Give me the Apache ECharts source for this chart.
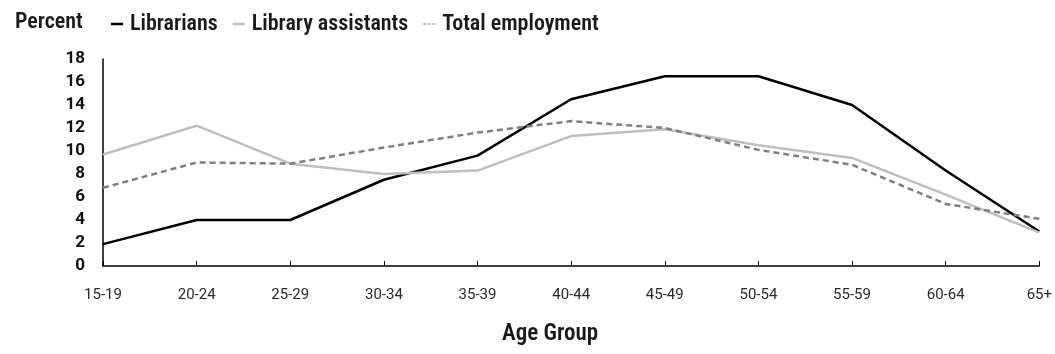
<!DOCTYPE html>
<html>
<head>
<meta charset="utf-8">
<script src="https://cdn.jsdelivr.net/npm/echarts@6/dist/echarts.min.js"></script>
<style>
  html, body { margin: 0; padding: 0; background: #fff; }
  #chart { width: 1055px; height: 354px; }
</style>
</head>
<body>
<div id="chart"></div>
<script>
// Age groups along the horizontal axis
const ageGroups = ['15-19', '20-24', '25-29', '30-34', '35-39', '40-44', '45-49', '50-54', '55-59', '60-64', '65+'];

// Share of each workforce by age group, in percent
const librarians = [1.9, 4.0, 4.0, 7.5, 9.6, 14.5, 16.5, 16.5, 14.0, 8.3, 3.0];
const libraryAssistants = [9.7, 12.2, 8.9, 8.0, 8.3, 11.3, 11.9, 10.5, 9.4, 6.2, 2.9];
const totalEmployment = [6.8, 9.0, 8.9, 10.3, 11.6, 12.6, 12.0, 10.1, 8.8, 5.4, 4.1];

const COND = '"Roboto Condensed", "Open Sans", sans-serif';
const REG = 'Roboto, "Noto Sans", sans-serif';

const chart = echarts.init(document.getElementById('chart'), null, { renderer: 'canvas' });

function lineSeries(name, data, color, type) {
  return {
    name: name,
    type: 'line',
    data: data,
    symbol: 'none',
    showSymbol: false,
    animation: false,
    lineStyle: { color: color, width: 2.5, type: type },
    itemStyle: { color: color }
  };
}

// Legend keys: short solid bars, and three dashes for the dashed series
const solidKey = 'rect';
const dashedKey = 'path://M0,0h3v1h-3zM4.5,0h3v1h-3zM9,0h3v1h-3z';

chart.setOption({
  animation: false,
  backgroundColor: '#fff',
  graphic: [{
    type: 'text',
    left: 15,
    top: 11,
    style: { text: 'Percent', font: '600 22px ' + COND, fill: '#1a1a1a' }
  }],
  legend: {
    left: 106,
    top: 8,
    itemWidth: 12,
    itemHeight: 2.5,
    itemGap: 15,
    textStyle: { fontFamily: COND, fontSize: 22, fontWeight: 600, color: '#1a1a1a', padding: [0, 0, 0, 2] },
    itemStyle: { borderWidth: 0 },
    data: [
      { name: 'Librarians', icon: solidKey },
      { name: 'Library assistants', icon: solidKey },
      { name: 'Total employment', icon: dashedKey }
    ]
  },
  grid: { left: 103, right: 12, top: 59, bottom: 88, containLabel: false },
  xAxis: {
    type: 'category',
    data: ageGroups,
    boundaryGap: false,
    axisLine: { lineStyle: { color: '#000', width: 1.5 } },
    axisTick: { show: true, inside: true, length: 5, alignWithLabel: true, lineStyle: { color: '#000' } },
    axisLabel: { color: '#2a2a2a', fontSize: 15, margin: 22, fontFamily: REG },
    name: 'Age Group',
    nameLocation: 'middle',
    nameGap: 57,
    nameTextStyle: { fontSize: 23, fontWeight: 600, color: '#1a1a1a', fontFamily: COND, padding: [0, 42, 0, 0] }
  },
  yAxis: {
    type: 'value',
    min: 0,
    max: 18,
    interval: 2,
    axisLine: { show: true, lineStyle: { color: '#000', width: 1.5 } },
    axisTick: { show: false },
    splitLine: { show: false },
    axisLabel: { color: '#111', fontSize: 17, fontWeight: 'bold', margin: 18, fontFamily: REG }
  },
  series: [
    lineSeries('Librarians', librarians, '#000000', 'solid'),
    lineSeries('Library assistants', libraryAssistants, '#bfbfbf', 'solid'),
    lineSeries('Total employment', totalEmployment, '#808080', [6, 4])
  ]
});
</script>
</body>
</html>
